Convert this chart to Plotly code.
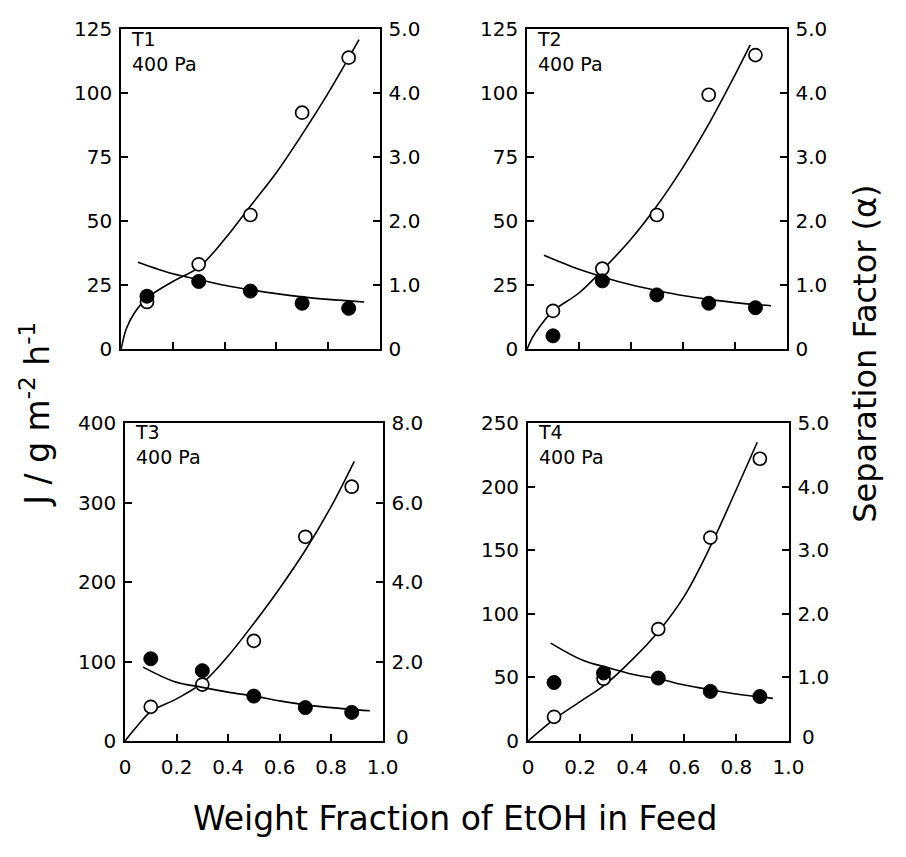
import plotly.graph_objects as go

# ---------------- data ----------------
panel_names = ["T1", "T2", "T3", "T4"]
pressure_label = "400 Pa"

# measured points: x = weight fraction of EtOH in feed
feed_t1 = [0.10, 0.30, 0.50, 0.70, 0.88]
feed_t2 = [0.10, 0.29, 0.50, 0.70, 0.88]
feed_t3 = [0.10, 0.30, 0.50, 0.70, 0.88]
feed_t4 = [0.10, 0.29, 0.50, 0.70, 0.89]

# flux J (open circles, left axis)
flux_t1 = [18.5, 33.2, 52.5, 92.5, 114.0]
flux_t2 = [15.0, 31.5, 52.5, 99.5, 115.0]
flux_t3 = [43.0, 71.0, 126.0, 257.0, 320.0]
flux_t4 = [19.0, 49.0, 88.0, 160.0, 222.0]

# separation factor alpha (filled circles, right axis)
alpha_t1 = [0.83, 1.06, 0.91, 0.72, 0.64]
alpha_t2 = [0.21, 1.07, 0.85, 0.72, 0.65]
alpha_t3 = [2.07, 1.77, 1.13, 0.84, 0.72]
alpha_t4 = [0.92, 1.07, 0.99, 0.78, 0.70]

# fitted flux curves
flux_curve_x_t1 = [0.0, 0.02, 0.05, 0.10, 0.20, 0.30, 0.40, 0.50, 0.60, 0.70, 0.80, 0.92]
flux_curve_y_t1 = [0.0, 8.0, 14.0, 20.0, 26.5, 32.0, 43.0, 56.0, 69.0, 84.0, 100.0, 121.0]
flux_curve_x_t2 = [0.0, 0.02, 0.05, 0.10, 0.20, 0.30, 0.40, 0.50, 0.60, 0.70, 0.80, 0.86]
flux_curve_y_t2 = [0.0, 4.5, 9.0, 15.0, 22.0, 32.0, 43.0, 56.0, 71.0, 88.0, 107.0, 119.0]
flux_curve_x_t3 = [0.0, 0.04, 0.10, 0.20, 0.30, 0.40, 0.50, 0.60, 0.70, 0.80, 0.89]
flux_curve_y_t3 = [0.0, 16.0, 37.0, 53.0, 73.0, 107.0, 148.0, 192.0, 240.0, 295.0, 352.0]
flux_curve_x_t4 = [0.0, 0.10, 0.20, 0.30, 0.40, 0.50, 0.60, 0.70, 0.80, 0.88]
flux_curve_y_t4 = [0.0, 17.0, 31.0, 45.0, 64.0, 86.0, 114.0, 153.0, 198.0, 235.0]

# fitted separation-factor curves
alpha_curve_x_t1 = [0.065, 0.20, 0.30, 0.40, 0.50, 0.60, 0.70, 0.80, 0.94]
alpha_curve_y_t1 = [1.36, 1.18, 1.09, 1.00, 0.93, 0.87, 0.82, 0.78, 0.74]
alpha_curve_x_t2 = [0.065, 0.20, 0.30, 0.40, 0.50, 0.60, 0.70, 0.80, 0.94]
alpha_curve_y_t2 = [1.47, 1.25, 1.12, 1.01, 0.92, 0.84, 0.78, 0.73, 0.68]
alpha_curve_x_t3 = [0.07, 0.19, 0.30, 0.40, 0.50, 0.60, 0.70, 0.80, 0.95]
alpha_curve_y_t3 = [1.86, 1.50, 1.35, 1.23, 1.13, 1.01, 0.91, 0.84, 0.76]
alpha_curve_x_t4 = [0.087, 0.21, 0.31, 0.40, 0.51, 0.60, 0.71, 0.80, 0.94]
alpha_curve_y_t4 = [1.54, 1.27, 1.15, 1.05, 0.97, 0.88, 0.80, 0.74, 0.67]

# axis ticks
x_ticks = [0, 0.2, 0.4, 0.6, 0.8, 1.0]
x_tick_text = ["0", "0.2", "0.4", "0.6", "0.8", "1.0"]
flux_ticks_t1 = [0, 25, 50, 75, 100, 125]
flux_ticks_t3 = [0, 100, 200, 300, 400]
flux_ticks_t4 = [0, 50, 100, 150, 200, 250]
alpha_ticks_5 = [0, 1, 2, 3, 4, 5]
alpha_ticks_5_text = ["0", "1.0", "2.0", "3.0", "4.0", "5.0"]
alpha_ticks_8 = [0, 2, 4, 6, 8]
alpha_ticks_8_text = ["0", "2.0", "4.0", "6.0", "8.0"]

x_title = "Weight Fraction of EtOH in Feed"
y_left_title = "J / g m<sup>-2</sup> h<sup>-1</sup>"
y_right_title = "Separation Factor (α)"

# ---------------- figure construction ----------------
W, H = 906, 857
FONT = "DejaVu Sans"

panels = [
    dict(feed=feed_t1, flux=flux_t1, alpha=alpha_t1,
         fcx=flux_curve_x_t1, fcy=flux_curve_y_t1, acx=alpha_curve_x_t1, acy=alpha_curve_y_t1,
         fticks=flux_ticks_t1, fmax=125, aticks=alpha_ticks_5, atext=alpha_ticks_5_text, amax=5,
         px=(118, 383), py=(18, 347), xlabels=False),
    dict(feed=feed_t2, flux=flux_t2, alpha=alpha_t2,
         fcx=flux_curve_x_t2, fcy=flux_curve_y_t2, acx=alpha_curve_x_t2, acy=alpha_curve_y_t2,
         fticks=flux_ticks_t1, fmax=125, aticks=alpha_ticks_5, atext=alpha_ticks_5_text, amax=5,
         px=(534, 800), py=(18, 347), xlabels=False),
    dict(feed=feed_t3, flux=flux_t3, alpha=alpha_t3,
         fcx=flux_curve_x_t3, fcy=flux_curve_y_t3, acx=alpha_curve_x_t3, acy=alpha_curve_y_t3,
         fticks=flux_ticks_t3, fmax=400, aticks=alpha_ticks_8, atext=alpha_ticks_8_text, amax=8,
         px=(122, 386), py=(423, 750), xlabels=True),
    dict(feed=feed_t4, flux=flux_t4, alpha=alpha_t4,
         fcx=flux_curve_x_t4, fcy=flux_curve_y_t4, acx=alpha_curve_x_t4, acy=alpha_curve_y_t4,
         fticks=flux_ticks_t4, fmax=250, aticks=alpha_ticks_5, atext=alpha_ticks_5_text, amax=5,
         px=(535, 802), py=(423, 750), xlabels=True),
]


def ref(prefix, n):
    return prefix if n == 1 else f"{prefix}{n}"


fig = go.Figure()
layout = dict(
    width=W, height=H, margin=dict(l=0, r=0, t=0, b=0),
    paper_bgcolor="white", plot_bgcolor="white", showlegend=False,
    font=dict(family=FONT, color="black", size=20),
)
annotations = []

line_style = dict(color="black", width=1.6)
tick_font = dict(family=FONT, size=20, color="black")

for i, p in enumerate(panels, start=1):
    xa = ref("x", i)
    yl = ref("y", 2 * i - 1)
    yr = ref("y", 2 * i)
    xd = [p["px"][0] / W, p["px"][1] / W]
    yd = [1 - p["py"][1] / H, 1 - p["py"][0] / H]
    ph = p["py"][1] - p["py"][0]

    # in the lower panels the right-hand "0" sits just above/right of "1.0"
    if p["xlabels"]:
        r_vals = [v for v in p["aticks"] if v != 0]
        r_text = [t for v, t in zip(p["aticks"], p["atext"]) if v != 0]
        annotations.append(dict(
            text=p["atext"][p["aticks"].index(0)], xref="paper", yref="paper",
            x=(p["px"][1] + 12) / W, y=1 - (p["py"][1] - 4) / H,
            xanchor="left", yanchor="middle", showarrow=False,
            font=tick_font,
        ))
    else:
        r_vals, r_text = p["aticks"], p["atext"]

    layout[ref("xaxis", i)] = dict(
        domain=xd, anchor=yl, range=[0, 1.0],
        showline=True, linecolor="black", linewidth=1.8, mirror=True,
        ticks="inside", ticklen=7, tickwidth=1.5, tickcolor="black",
        tickvals=x_ticks, ticktext=x_tick_text, showticklabels=p["xlabels"],
        showgrid=False, zeroline=False, tickfont=tick_font, ticklabelstandoff=7,
    )
    layout[ref("yaxis", 2 * i - 1)] = dict(
        domain=yd, anchor=xa, range=[0, p["fmax"]],
        showline=True, linecolor="black", linewidth=1.8,
        ticks="inside", ticklen=7, tickwidth=1.5, tickcolor="black",
        tickvals=p["fticks"], ticktext=[str(v) for v in p["fticks"]],
        showgrid=False, zeroline=False, tickfont=tick_font, ticklabelstandoff=3,
    )
    layout[ref("yaxis", 2 * i)] = dict(
        domain=yd, anchor=xa, overlaying=yl, side="right", range=[0, p["amax"]],
        showline=True, linecolor="black", linewidth=1.8,
        ticks="inside", ticklen=7, tickwidth=1.5, tickcolor="black",
        tickvals=r_vals, ticktext=r_text,
        showgrid=False, zeroline=False, tickfont=tick_font, ticklabelstandoff=3,
    )

    # fitted curves
    fig.add_trace(go.Scatter(x=p["fcx"], y=p["fcy"], mode="lines", line=dict(shape="spline", **line_style),
                             xaxis=xa, yaxis=yl, hoverinfo="skip"))
    fig.add_trace(go.Scatter(x=p["acx"], y=p["acy"], mode="lines", line=dict(shape="spline", **line_style),
                             xaxis=xa, yaxis=yr, hoverinfo="skip"))
    # measured points
    fig.add_trace(go.Scatter(x=p["feed"], y=p["flux"], mode="markers",
                             marker=dict(symbol="circle", size=13, color="white",
                                         line=dict(color="black", width=1.7)),
                             xaxis=xa, yaxis=yl, cliponaxis=False))
    fig.add_trace(go.Scatter(x=p["feed"], y=p["alpha"], mode="markers",
                             marker=dict(symbol="circle", size=14, color="black",
                                         line=dict(color="black", width=1)),
                             xaxis=xa, yaxis=yr, cliponaxis=False))

    annotations.append(dict(
        text=f"{panel_names[i-1]}<br>{pressure_label}", xref=f"{xa} domain", yref=f"{yl} domain",
        x=0.03, y=1 + 4 / ph, xanchor="left", yanchor="top", showarrow=False, align="left",
        font=dict(family=FONT, size=19, color="black"),
    ))

annotations.append(dict(text=x_title, xref="paper", yref="paper", x=460 / W, y=1 - 830 / H,
                        xanchor="center", yanchor="middle", showarrow=False,
                        font=dict(family=FONT, size=33, color="black")))
annotations.append(dict(text=y_left_title, xref="paper", yref="paper", x=30 / W, y=1 - 414 / H,
                        xanchor="center", yanchor="middle", textangle=-90, showarrow=False,
                        font=dict(family=FONT, size=33, color="black")))
annotations.append(dict(text=y_right_title, xref="paper", yref="paper", x=881 / W, y=1 - 352 / H,
                        xanchor="center", yanchor="middle", textangle=-90, showarrow=False,
                        font=dict(family=FONT, size=32, color="black")))

layout["annotations"] = annotations
fig.update_layout(**layout)
fig.write_html("out.html")
